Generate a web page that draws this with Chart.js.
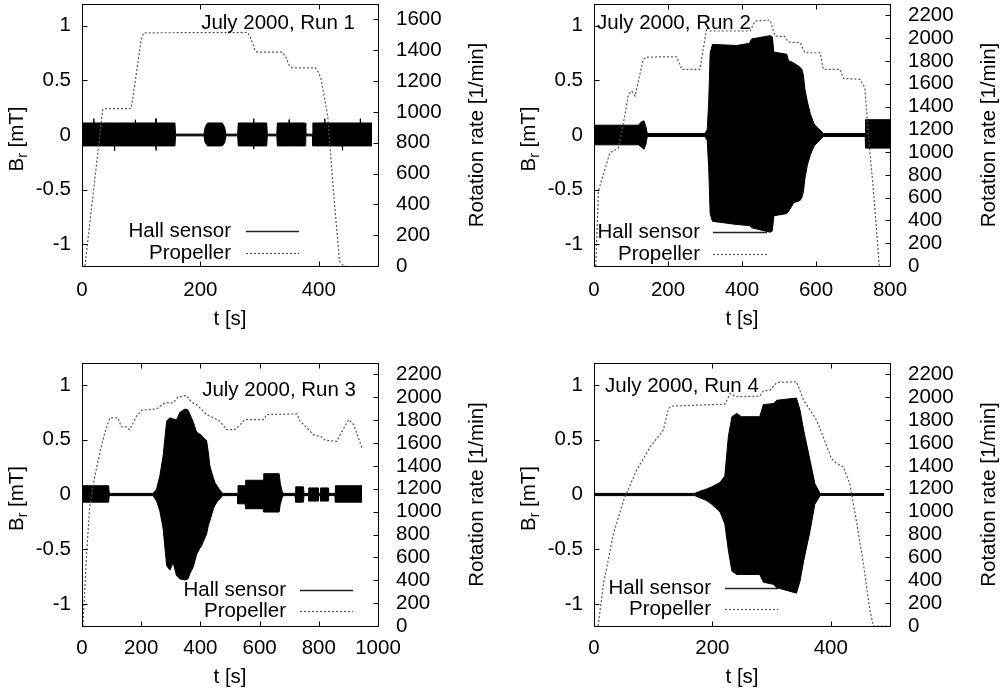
<!DOCTYPE html>
<html>
<head>
<meta charset="utf-8">
<script src="https://cdn.jsdelivr.net/npm/chart.js@4.4.0/dist/chart.umd.min.js"></script>
<style>
body { margin: 0; background: #fff; }
#wrap { position: relative; width: 1008px; height: 694px; }
#wrap canvas { position: absolute; }
</style>
</head>
<body>
<div id="wrap">
  <canvas id="run1" width="504" height="347" style="left:0;top:0"></canvas>
  <canvas id="run2" width="504" height="347" style="left:504px;top:0"></canvas>
  <canvas id="run3" width="504" height="347" style="left:0;top:347px"></canvas>
  <canvas id="run4" width="504" height="347" style="left:504px;top:347px"></canvas>
</div>
<script>
// ---- Data ----
// Hall sensor: envelope of the dense oscillation (upper / lower) vs t [s]
const run1T  = [0, 19.6, 20, 20.4, 54.6, 55, 55.4, 89.6, 90, 90.4, 124.6, 125, 125.4, 157, 158,
                206, 208, 212, 237, 241, 243, 263, 264, 289.6, 290, 290.4, 312, 313, 329, 330, 349.6, 350, 350.4, 377, 378,
                389, 390, 409.6, 410, 410.4, 439.6, 440, 440.4, 469.6, 470, 470.4, 490];
const run1Hi = [0.11, 0.11, 0.15, 0.11, 0.11, 0.11, 0.11, 0.11, 0.14, 0.11, 0.11, 0.15, 0.11, 0.11, 0.008,
                0.008, 0.07, 0.11, 0.11, 0.07, 0.008, 0.008, 0.11, 0.11, 0.15, 0.11, 0.11, 0.008, 0.008, 0.11, 0.11, 0.14, 0.11, 0.11, 0.008,
                0.008, 0.11, 0.11, 0.15, 0.11, 0.11, 0.11, 0.11, 0.11, 0.15, 0.11, 0.11];
const run1Lo = [-0.1, -0.1, -0.1, -0.1, -0.1, -0.145, -0.1, -0.1, -0.1, -0.1, -0.1, -0.14, -0.1, -0.1, -0.008,
                -0.008, -0.07, -0.1, -0.1, -0.07, -0.008, -0.008, -0.1, -0.1, -0.13, -0.1, -0.1, -0.008, -0.008, -0.1, -0.1, -0.1, -0.1, -0.1, -0.008,
                -0.008, -0.1, -0.1, -0.1, -0.1, -0.1, -0.14, -0.1, -0.1, -0.1, -0.1, -0.1];

const run2T  = [0, 120, 128, 135, 140, 144, 300, 306, 310, 314, 320, 386, 420, 426, 476, 482, 486, 521, 526, 540, 557, 562, 566, 570, 577, 585, 595, 611, 620, 733, 734, 800];
const run2Hi = [0.09, 0.09, 0.12, 0.13, 0.08, 0.014, 0.014, 0.05, 0.3, 0.75, 0.83, 0.82, 0.84, 0.88, 0.91, 0.9, 0.76, 0.74, 0.68, 0.66, 0.62, 0.6, 0.55, 0.42, 0.3, 0.19, 0.1, 0.045, 0.014, 0.014, 0.14, 0.14];
const run2Lo = [-0.09, -0.09, -0.11, -0.13, -0.09, -0.014, -0.014, -0.05, -0.3, -0.72, -0.79, -0.82, -0.83, -0.85, -0.89, -0.88, -0.74, -0.72, -0.7, -0.62, -0.6, -0.57, -0.52, -0.4, -0.27, -0.18, -0.1, -0.045, -0.014, -0.014, -0.12, -0.12];

const run3T  = [0, 90, 92, 240, 252, 263, 274, 286, 297, 308, 319, 331, 348, 358, 365, 376, 387, 398, 404, 410, 421, 427, 432, 444, 449, 458, 466, 475, 525, 527, 551, 553, 612, 614, 666, 670, 676, 680, 720, 722, 748, 750, 765, 766, 798, 799, 805, 806, 832, 833, 855, 856, 946];
const run3Hi = [0.08, 0.08, 0.01, 0.01, 0.05, 0.17, 0.35, 0.67, 0.7, 0.69, 0.68, 0.75, 0.78, 0.77, 0.73, 0.66, 0.57, 0.55, 0.54, 0.52, 0.49, 0.38, 0.26, 0.15, 0.11, 0.07, 0.04, 0.01, 0.01, 0.08, 0.08, 0.13, 0.13, 0.19, 0.19, 0.1, 0.03, 0.01, 0.01, 0.07, 0.07, 0.01, 0.01, 0.06, 0.06, 0.01, 0.01, 0.06, 0.06, 0.01, 0.01, 0.08, 0.08];
const run3Lo = [-0.07, -0.07, -0.01, -0.01, -0.06, -0.15, -0.31, -0.65, -0.69, -0.62, -0.74, -0.77, -0.78, -0.77, -0.72, -0.66, -0.55, -0.49, -0.47, -0.43, -0.36, -0.28, -0.24, -0.13, -0.1, -0.06, -0.04, -0.01, -0.01, -0.085, -0.085, -0.13, -0.13, -0.16, -0.16, -0.09, -0.03, -0.01, -0.01, -0.07, -0.07, -0.01, -0.01, -0.06, -0.06, -0.01, -0.01, -0.06, -0.06, -0.01, -0.01, -0.07, -0.07];

const run4T  = [0, 170, 179, 190, 199, 213, 221, 227, 233, 241, 249, 280, 286, 303, 309, 342, 348, 354, 365, 373, 382, 490];
const run4Hi = [0.01, 0.01, 0.03, 0.05, 0.07, 0.11, 0.17, 0.53, 0.71, 0.74, 0.71, 0.71, 0.82, 0.83, 0.86, 0.88, 0.77, 0.59, 0.31, 0.1, 0.008, 0.008];
const run4Lo = [-0.01, -0.01, -0.03, -0.055, -0.09, -0.16, -0.27, -0.51, -0.7, -0.73, -0.73, -0.73, -0.8, -0.82, -0.85, -0.9, -0.79, -0.61, -0.33, -0.09, -0.008, -0.008];

// Propeller rotation rate [1/min] vs t [s]
const run1PropT = [5, 35, 38, 83, 90, 100, 104, 280, 286, 292, 296, 338, 344, 350, 355, 394, 399, 404, 415, 424, 435, 440, 446];
const run1Rpm   = [0, 1016, 1020, 1022, 1200, 1470, 1513, 1515, 1470, 1400, 1388, 1388, 1360, 1300, 1286, 1286, 1260, 1211, 973, 519, 32, 8, 0];

const run2PropT = [5, 12, 43, 52, 66, 75, 93, 102, 111, 133, 142, 223, 232, 237, 286, 295, 305, 313, 422, 435, 476, 489, 516, 525, 557, 570, 611, 620, 665, 674, 719, 732, 741, 755, 771];
const run2Rpm   = [0, 660, 995, 1009, 1038, 1170, 1507, 1536, 1492, 1814, 1834, 1837, 1770, 1726, 1726, 1902, 2092, 2063, 2063, 2150, 2159, 2019, 2013, 1966, 1960, 1872, 1872, 1726, 1726, 1647, 1638, 1565, 1170, 673, 0];

const run3PropT = [3, 15, 26, 43, 60, 77, 94, 122, 133, 150, 161, 184, 201, 252, 280, 308, 325, 353, 370, 387, 404, 421, 444, 466, 489, 517, 551, 613, 624, 726, 737, 760, 782, 810, 822, 861, 872, 901, 918, 946];
const run3Rpm   = [0, 606, 1044, 1308, 1512, 1688, 1820, 1820, 1741, 1741, 1717, 1834, 1887, 1899, 1951, 1951, 2004, 2016, 1957, 1937, 1893, 1849, 1820, 1791, 1717, 1717, 1805, 1805, 1849, 1855, 1791, 1732, 1673, 1653, 1624, 1615, 1673, 1805, 1761, 1556];

const run4PropT = [7, 16, 33, 50, 72, 95, 117, 126, 131, 221, 230, 241, 280, 286, 297, 309, 342, 354, 376, 387, 401, 410, 421, 432, 444, 455, 466, 472, 494];
const run4Rpm   = [0, 370, 808, 1100, 1363, 1567, 1713, 1903, 1923, 1940, 2034, 2005, 2010, 2057, 2060, 2130, 2136, 1975, 1800, 1655, 1465, 1421, 1392, 1246, 896, 546, 137, 0, 0];

// Tick labels
const bTicks     = [-1, -0.5, 0, 0.5, 1];
const rpmTicks1  = [0, 200, 400, 600, 800, 1000, 1200, 1400, 1600];
const rpmTicks   = [0, 200, 400, 600, 800, 1000, 1200, 1400, 1600, 1800, 2000, 2200];
const tTicks500  = [0, 200, 400];
const tTicks800  = [0, 200, 400, 600, 800];
const tTicks1000 = [0, 200, 400, 600, 800, 1000];

const runTitles  = ['July 2000, Run 1', 'July 2000, Run 2', 'July 2000, Run 3', 'July 2000, Run 4'];
const legendText = ['Hall sensor', 'Propeller'];

const FONT = '"Liberation Sans", Arial, Helvetica, sans-serif';
const FS = 20.5;
const W = 504, H = 347;

function pts(xs, ys) {
    return xs.map((x, i) => ({ x: x, y: ys[i] }));
}

// Frame, inward tick marks, labels and key in gnuplot style
const gnuFrame = {
    id: 'gnuFrame',
    beforeDatasetsDraw(chart, args, p) {
        const ctx = chart.ctx, a = chart.chartArea;
        ctx.save();
        ctx.font = FS + 'px ' + FONT;
        ctx.fillStyle = '#000';
        ctx.textAlign = 'right';
        ctx.textBaseline = 'middle';
        const rows = [a.bottom + p.keyRow1, a.bottom + p.keyRow2];
        rows.forEach((y, i) => {
            ctx.fillText(legendText[i], a.left + p.keyText, y);
            ctx.beginPath();
            if (i === 0) {
                ctx.strokeStyle = '#222';
                ctx.lineWidth = 1.5;
                ctx.setLineDash([]);
            } else {
                ctx.strokeStyle = '#555';
                ctx.lineWidth = 1.2;
                ctx.setLineDash([2, 2]);
            }
            ctx.moveTo(a.left + p.keyFrom, Math.round(y) + 0.5);
            ctx.lineTo(a.left + p.keyTo, Math.round(y) + 0.5);
            ctx.stroke();
        });
        ctx.restore();
    },
    afterDraw(chart, args, p) {
        const ctx = chart.ctx, a = chart.chartArea, s = chart.scales;
        ctx.save();
        ctx.strokeStyle = '#000';
        ctx.lineWidth = 1;
        const L = Math.round(a.left) + 0.5, T = Math.round(a.top) + 0.5;
        const R = Math.round(a.right) + 0.5, B = Math.round(a.bottom) + 0.5;
        ctx.strokeRect(L, T, R - L, B - T);
        ctx.beginPath();
        s.x.ticks.forEach(t => {
            const x = Math.round(s.x.getPixelForValue(t.value)) + 0.5;
            ctx.moveTo(x, B); ctx.lineTo(x, B - 5);
            ctx.moveTo(x, T); ctx.lineTo(x, T + 5);
        });
        s.y.ticks.forEach(t => {
            const y = Math.round(s.y.getPixelForValue(t.value)) + 0.5;
            ctx.moveTo(L, y); ctx.lineTo(L + 5, y);
        });
        s.y2.ticks.forEach(t => {
            const y = Math.round(s.y2.getPixelForValue(t.value)) + 0.5;
            ctx.moveTo(R, y); ctx.lineTo(R - 5, y);
        });
        ctx.stroke();

        ctx.fillStyle = '#000';
        ctx.font = FS + 'px ' + FONT;

        // run title inside the box
        ctx.textBaseline = 'alphabetic';
        if (p.titleRight) {
            ctx.textAlign = 'right';
            ctx.fillText(p.title, a.right + p.titleDx, a.top + p.titleDy);
        } else {
            ctx.textAlign = 'left';
            ctx.fillText(p.title, a.left + p.titleDx, a.top + p.titleDy);
        }

        // x title
        ctx.textAlign = 'center';
        ctx.textBaseline = 'middle';
        ctx.fillText('t [s]', (a.left + a.right) / 2, a.bottom + p.xTitleDy);

        // y2 title
        ctx.save();
        ctx.translate(a.right + 99, (a.top + a.bottom) / 2);
        ctx.rotate(-Math.PI / 2);
        ctx.fillText('Rotation rate [1/min]', 0, 0);
        ctx.restore();

        // y title with subscript: B_r [mT]
        ctx.save();
        ctx.translate(a.left - 65, (a.top + a.bottom) / 2 + 4);
        ctx.rotate(-Math.PI / 2);
        ctx.textAlign = 'left';
        const wB = ctx.measureText('B').width;
        const wRest = ctx.measureText(' [mT]').width;
        ctx.font = '14px ' + FONT;
        const wr = ctx.measureText('r').width;
        const x0 = -(wB + wr + wRest) / 2;
        ctx.fillText('r', x0 + wB, 6);
        ctx.font = FS + 'px ' + FONT;
        ctx.fillText('B', x0, 0);
        ctx.fillText(' [mT]', x0 + wB + wr, 0);
        ctx.restore();

        ctx.restore();
    }
};

function makePanel(id, cfg) {
    const tickFont = { family: FONT, size: FS };
    const noGrid = { display: false, drawTicks: false };
    new Chart(document.getElementById(id), {
        type: 'line',
        data: {
            datasets: [
                { data: pts(cfg.t, cfg.hi), yAxisID: 'y', order: 1, borderColor: '#000', borderWidth: 1,
                  backgroundColor: '#000', fill: '+1', pointRadius: 0, tension: 0 },
                { data: pts(cfg.t, cfg.lo), yAxisID: 'y', order: 1, borderColor: '#000', borderWidth: 1,
                  fill: false, pointRadius: 0, tension: 0 },
                { data: pts(cfg.propT, cfg.rpm), yAxisID: 'y2', order: 0, borderColor: '#555', borderWidth: 1.2,
                  borderDash: [2, 2], fill: false, pointRadius: 0, tension: 0 }
            ]
        },
        options: {
            responsive: false,
            animation: false,
            devicePixelRatio: 1,
            layout: { padding: { top: cfg.top, left: 0, right: 0, bottom: 0 } },
            plugins: {
                legend: { display: false },
                tooltip: { enabled: false },
                gnuFrame: cfg.frame
            },
            scales: {
                x: {
                    type: 'linear', position: 'bottom', min: 0, max: cfg.xMax,
                    grid: noGrid, border: { display: false },
                    ticks: { font: tickFont, color: '#000', padding: cfg.xPad, maxRotation: 0, autoSkip: false,
                             callback: v => String(v) },
                    afterBuildTicks: s => { s.ticks = cfg.xTicks.map(v => ({ value: v })); },
                    afterFit: s => { s.height = H - cfg.bottom; s.paddingLeft = 0; s.paddingRight = 0; }
                },
                y: {
                    type: 'linear', position: 'left', min: -1.2, max: 1.2,
                    grid: noGrid, border: { display: false },
                    ticks: { font: tickFont, color: '#000', padding: 11, autoSkip: false, callback: v => String(v) },
                    afterBuildTicks: s => { s.ticks = bTicks.map(v => ({ value: v })); },
                    afterFit: s => { s.width = cfg.left; s.paddingTop = 0; s.paddingBottom = 0; }
                },
                y2: {
                    type: 'linear', position: 'right', min: 0, max: cfg.rpmMax,
                    grid: noGrid, border: { display: false },
                    ticks: { font: tickFont, color: '#000', padding: 18, autoSkip: false, callback: v => String(v) },
                    afterBuildTicks: s => { s.ticks = cfg.rpmTicks.map(v => ({ value: v })); },
                    afterFit: s => { s.width = W - cfg.right; s.paddingTop = 0; s.paddingBottom = 0; }
                }
            }
        },
        plugins: [gnuFrame]
    });
}

makePanel('run1', {
    t: run1T, hi: run1Hi, lo: run1Lo, propT: run1PropT, rpm: run1Rpm,
    xMax: 500, xTicks: tTicks500, rpmMax: 1700, rpmTicks: rpmTicks1,
    left: 82, right: 378, top: 4, bottom: 266, xPad: 12,
    frame: { title: runTitles[0], titleRight: true, titleDx: -23, titleDy: 25, xTitleDy: 53,
             keyText: 149, keyFrom: 164, keyTo: 217, keyRow1: -35, keyRow2: -13 }
});
makePanel('run2', {
    t: run2T, hi: run2Hi, lo: run2Lo, propT: run2PropT, rpm: run2Rpm,
    xMax: 800, xTicks: tTicks800, rpmMax: 2300, rpmTicks: rpmTicks,
    left: 90, right: 386, top: 4, bottom: 266, xPad: 12,
    frame: { title: runTitles[1], titleRight: false, titleDx: 3, titleDy: 25, xTitleDy: 53,
             keyText: 106, keyFrom: 119, keyTo: 173, keyRow1: -34, keyRow2: -12 }
});
makePanel('run3', {
    t: run3T, hi: run3Hi, lo: run3Lo, propT: run3PropT, rpm: run3Rpm,
    xMax: 1000, xTicks: tTicks1000, rpmMax: 2300, rpmTicks: rpmTicks,
    left: 82, right: 378, top: 16, bottom: 279, xPad: 10,
    frame: { title: runTitles[2], titleRight: true, titleDx: -22, titleDy: 33, xTitleDy: 51,
             keyText: 204, keyFrom: 218, keyTo: 271, keyRow1: -36, keyRow2: -15 }
});
makePanel('run4', {
    t: run4T, hi: run4Hi, lo: run4Lo, propT: run4PropT, rpm: run4Rpm,
    xMax: 500, xTicks: tTicks500, rpmMax: 2300, rpmTicks: rpmTicks,
    left: 90, right: 386, top: 16, bottom: 279, xPad: 10,
    frame: { title: runTitles[3], titleRight: false, titleDx: 11, titleDy: 29, xTitleDy: 51,
             keyText: 117, keyFrom: 131, keyTo: 184, keyRow1: -38, keyRow2: -17 }
});
</script>
</body>
</html>
